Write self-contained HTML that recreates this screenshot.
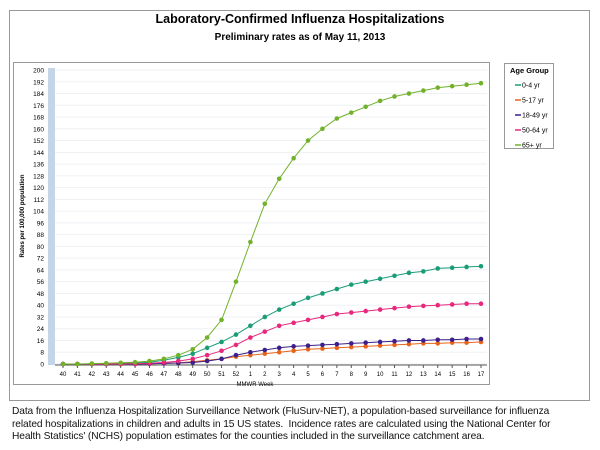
<!DOCTYPE html>
<html><head><meta charset="utf-8"><style>
body{margin:0;background:#fff;width:600px;height:450px;overflow:hidden;font-family:"Liberation Sans",sans-serif}
#foot{position:absolute;left:12px;top:406px;width:562px;font-size:10.2px;line-height:12.5px;color:#111;letter-spacing:-0.1px}
</style></head><body>
<svg id="s" width="600" height="450" style="position:absolute;left:0;top:0" font-family="Liberation Sans, sans-serif">
<rect x="9.5" y="10.5" width="580" height="390" fill="#fff" stroke="#999"/>
<text x="300" y="23" text-anchor="middle" font-size="12.5" font-weight="bold">Laboratory-Confirmed Influenza Hospitalizations</text>
<text x="300" y="40" text-anchor="middle" font-size="10" font-weight="bold">Preliminary rates as of May 11, 2013</text>
<rect x="13.5" y="62.5" width="476" height="322" fill="#fff" stroke="#999"/>
<rect x="504.5" y="63.5" width="49" height="85" fill="#fff" stroke="#999"/>
<text x="510" y="73" font-size="7.5" font-weight="bold">Age Group</text>
<g id="g"></g>
</svg>
<div id="foot">Data from the Influenza Hospitalization Surveillance Network (FluSurv-NET), a population-based surveillance for influenza related hospitalizations in children and adults in 15 US states.&nbsp; Incidence rates are calculated using the National Center for Health Statistics' (NCHS) population estimates for the counties included in the surveillance catchment area.</div>
<script>
var g=document.getElementById('g'),h='';
var X0=63,DX=(481-63)/29,Y0=364,K=294/200;
function y(v){return Y0-v*K}
h+='<rect x="48" y="68" width="7" height="297" fill="#c5d5e8"/>';
for(var v=0;v<=200;v+=8){var yy=y(v);
h+='<line x1="55" x2="487" y1="'+yy+'" y2="'+yy+'" stroke="#eef1f5"/>';
h+='<text x="44" y="'+(yy+2.5)+'" text-anchor="end" font-size="6.5">'+v+'</text>';}
h+='<line x1="55" x2="487" y1="365" y2="365" stroke="#555"/>';
var labs=[];for(var i=40;i<=52;i++)labs.push(i);for(i=1;i<=17;i++)labs.push(i);
labs.forEach(function(l,i){var x=X0+i*DX;h+='<line x1="'+x+'" x2="'+x+'" y1="365" y2="368" stroke="#555"/><text x="'+x+'" y="376" text-anchor="middle" font-size="6">'+l+'</text>';});
h+='<text x="255" y="386" text-anchor="middle" font-size="6">MMWR Week</text>';
h+='<text transform="translate(24,216) rotate(-90)" text-anchor="middle" font-size="6" font-weight="bold">Rates per 100,000 population</text>';
var S=[
['#1a9c77','0-4 yr',[0,0,0,0.2,0.4,0.7,1.2,2.5,4.5,7,11,15,20,26,32,37,41,45,48,51,54,56,58,60,62,63,65,65.5,66,66.5]],
['#e8641a','5-17 yr',[0,0,0,0,0,0,0.2,0.4,0.8,1.5,2.5,3.5,5,6,7,8,9,10,10.5,11,11.5,12,12.5,13,13.5,14,14,14.5,14.5,15]],
['#3d1f8c','18-49 yr',[0,0,0,0,0,0,0.2,0.4,0.7,1,2,3.5,6,8,9.5,11,12,12.5,13,13.5,14,14.5,15,15.5,16,16,16.5,16.5,17,17]],
['#e8287c','50-64 yr',[0,0,0,0,0,0.2,0.5,1,2,3.5,6,9,13,18,22,26,28,30,32,34,35,36,37,38,39,39.5,40,40.5,41,41]],
['#72b22a','65+ yr',[0,0,0.3,0.5,0.8,1.2,2,3.5,6,10,18,30,56,83,109,126,140,152,160,167,171,175,179,182,184,186,188,189,190,191]]];
S.forEach(function(s,j){var p=s[2].map(function(v,i){return (X0+i*DX).toFixed(1)+','+y(v).toFixed(1)});
h+='<polyline points="'+p.join(' ')+'" fill="none" stroke="'+s[0]+'" stroke-width="1"/>';
s[2].forEach(function(v,i){h+='<circle cx="'+(X0+i*DX)+'" cy="'+y(v)+'" r="2.3" fill="'+s[0]+'"/>';});
var ly=85+j*15;h+='<line x1="515" x2="521" y1="'+ly+'" y2="'+ly+'" stroke="'+s[0]+'" stroke-width="1.5"/><text x="522" y="'+(ly+2.5)+'" font-size="7">'+s[1]+'</text>';});
g.innerHTML=h;
</script>
</body></html>
